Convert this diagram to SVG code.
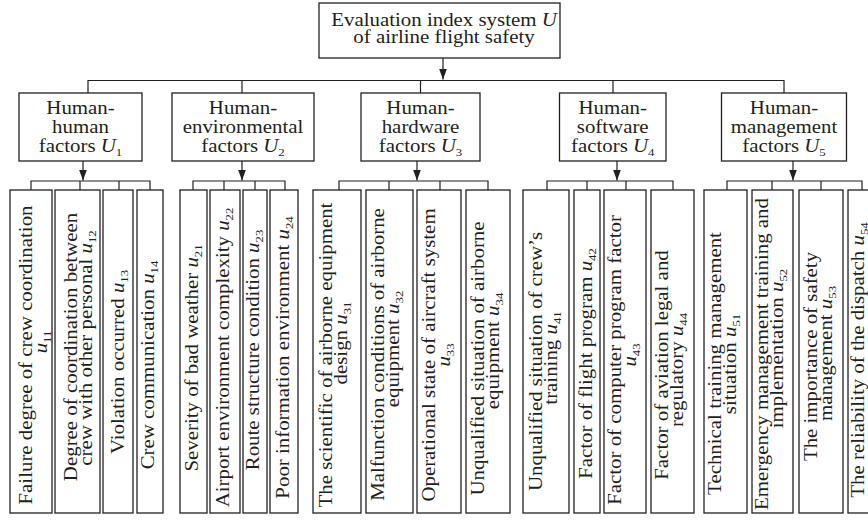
<svg xmlns="http://www.w3.org/2000/svg" width="868" height="528" viewBox="0 0 868 528">
<defs>
<marker id="ah" markerUnits="userSpaceOnUse" markerWidth="12" markerHeight="9" refX="11" refY="4" orient="auto"><path d="M0,0 L11,4 L0,8 z" fill="#231f20"/></marker>
<style>
.b{fill:#fff;stroke:#231f20;stroke-width:1.3}
.c{fill:none;stroke:#231f20;stroke-width:1.2}
text{font-family:"Liberation Serif","Times New Roman",serif;font-size:18px;fill:#231f20;text-anchor:middle}
.i{font-style:italic}
.s{font-size:11px}
</style>
</defs>
<rect width="868" height="528" fill="#fff"/>
<g id="connectors">
<path class="c" d="M443,58 V79.5" marker-end="url(#ah)"/>
<path class="c" d="M88,93 V80.5 H784 V93 M242,80.5 V93 M420.5,80.5 V93 M613,80.5 V93"/>
<path class="c" d="M83,161 V180.5" marker-end="url(#ah)"/>
<path class="c" d="M242,161 V180.5" marker-end="url(#ah)"/>
<path class="c" d="M417,161 V180.5" marker-end="url(#ah)"/>
<path class="c" d="M617,161 V180.5" marker-end="url(#ah)"/>
<path class="c" d="M793,161 V180.5" marker-end="url(#ah)"/>
<path class="c" d="M31,190 V181 H150 V190 M80,181 V190 M119,181 V190"/>
<path class="c" d="M193,190 V181 H285 V190 M224,181 V190 M255,181 V190"/>
<path class="c" d="M339,190 V181 H488 V190 M389,181 V190 M440,181 V190"/>
<path class="c" d="M547,190 V181 H673 V190 M587,181 V190 M626,181 V190"/>
<path class="c" d="M727,190 V181 H862 V190 M772,181 V190 M821,181 V190"/>
</g>
<g id="root">
<rect class="b" x="319" y="3" width="241" height="55"/>
<text transform="translate(444,26) scale(1.16,1)">Evaluation index system <tspan class="i">U</tspan></text>
<text transform="translate(444,43) scale(1.16,1)">of airline flight safety</text>
</g>
<g id="U1">
<rect class="b" x="19" y="93" width="123" height="68"/>
<text transform="translate(80.5,114) scale(1.16,1)">Human-</text>
<text transform="translate(80.5,133) scale(1.16,1)">human</text>
<text transform="translate(80.5,152) scale(1.16,1)">factors <tspan class="i">U</tspan><tspan class="s" dy="4">1</tspan></text>
</g>
<g id="U2">
<rect class="b" x="172" y="93" width="142" height="68"/>
<text transform="translate(243,114) scale(1.16,1)">Human-</text>
<text transform="translate(243,133) scale(1.16,1)">environmental</text>
<text transform="translate(243,152) scale(1.16,1)">factors <tspan class="i">U</tspan><tspan class="s" dy="4">2</tspan></text>
</g>
<g id="U3">
<rect class="b" x="361" y="93" width="119" height="68"/>
<text transform="translate(420.5,114) scale(1.16,1)">Human-</text>
<text transform="translate(420.5,133) scale(1.16,1)">hardware</text>
<text transform="translate(420.5,152) scale(1.16,1)">factors <tspan class="i">U</tspan><tspan class="s" dy="4">3</tspan></text>
</g>
<g id="U4">
<rect class="b" x="559.5" y="93" width="106.5" height="68"/>
<text transform="translate(612.7,114) scale(1.16,1)">Human-</text>
<text transform="translate(612.7,133) scale(1.16,1)">software</text>
<text transform="translate(612.7,152) scale(1.16,1)">factors <tspan class="i">U</tspan><tspan class="s" dy="4">4</tspan></text>
</g>
<g id="U5">
<rect class="b" x="721.5" y="93" width="125" height="68"/>
<text transform="translate(784,114) scale(1.16,1)">Human-</text>
<text transform="translate(784,133) scale(1.16,1)">management</text>
<text transform="translate(784,152) scale(1.16,1)">factors <tspan class="i">U</tspan><tspan class="s" dy="4">5</tspan></text>
</g>
<g id="u11">
<rect class="b" x="10" y="190" width="42" height="323"/>
<text transform="translate(32,355) rotate(-90) scale(1.16,1)">Failure degree of crew coordination</text>
<text transform="translate(47,342) rotate(-90) scale(1.16,1)"><tspan class="i">u</tspan><tspan class="s" dy="4">11</tspan></text>
</g>
<g id="u12">
<rect class="b" x="55" y="190" width="45" height="323"/>
<text transform="translate(77,347) rotate(-90) scale(1.16,1)">Degree of coordination between</text>
<text transform="translate(92,348) rotate(-90) scale(1.16,1)">crew with other personal <tspan class="i">u</tspan><tspan class="s" dy="4">12</tspan></text>
</g>
<g id="u13">
<rect class="b" x="103" y="190" width="30" height="323"/>
<text transform="translate(123.5,362) rotate(-90) scale(1.16,1)">Violation occurred <tspan class="i">u</tspan><tspan class="s" dy="4">13</tspan></text>
</g>
<g id="u14">
<rect class="b" x="137" y="190" width="26" height="323"/>
<text transform="translate(153.5,365) rotate(-90) scale(1.16,1)">Crew communication <tspan class="i">u</tspan><tspan class="s" dy="4">14</tspan></text>
</g>
<g id="u21">
<rect class="b" x="180" y="190" width="27" height="323"/>
<text transform="translate(198,358) rotate(-90) scale(1.16,1)">Severity of bad weather <tspan class="i">u</tspan><tspan class="s" dy="4">21</tspan></text>
</g>
<g id="u22">
<rect class="b" x="210" y="190" width="30" height="323"/>
<text transform="translate(229,357.5) rotate(-90) scale(1.16,1)">Airport environment complexity <tspan class="i">u</tspan><tspan class="s" dy="4">22</tspan></text>
</g>
<g id="u23">
<rect class="b" x="243" y="190" width="24" height="323"/>
<text transform="translate(259,350) rotate(-90) scale(1.16,1)">Route structure condition <tspan class="i">u</tspan><tspan class="s" dy="4">23</tspan></text>
</g>
<g id="u24">
<rect class="b" x="270" y="190" width="28" height="323"/>
<text transform="translate(288.5,357.5) rotate(-90) scale(1.16,1)">Poor information environment <tspan class="i">u</tspan><tspan class="s" dy="4">24</tspan></text>
</g>
<g id="u31">
<rect class="b" x="313" y="190" width="48" height="323"/>
<text transform="translate(331.5,355) rotate(-90) scale(1.16,1)">The scientific of airborne equipment</text>
<text transform="translate(347,343) rotate(-90) scale(1.16,1)">design <tspan class="i">u</tspan><tspan class="s" dy="4">31</tspan></text>
</g>
<g id="u32">
<rect class="b" x="366" y="190" width="47" height="323"/>
<text transform="translate(383.5,354.5) rotate(-90) scale(1.16,1)">Malfunction conditions of airborne</text>
<text transform="translate(398.5,349) rotate(-90) scale(1.16,1)">equipment <tspan class="i">u</tspan><tspan class="s" dy="4">32</tspan></text>
</g>
<g id="u33">
<rect class="b" x="417" y="190" width="44" height="323"/>
<text transform="translate(435,355) rotate(-90) scale(1.16,1)">Operational state of aircraft system</text>
<text transform="translate(450,355) rotate(-90) scale(1.16,1)"><tspan class="i">u</tspan><tspan class="s" dy="4">33</tspan></text>
</g>
<g id="u34">
<rect class="b" x="466" y="190" width="44" height="323"/>
<text transform="translate(483.5,358.5) rotate(-90) scale(1.16,1)">Unqualified situation of airborne</text>
<text transform="translate(498.5,351) rotate(-90) scale(1.16,1)">equipment <tspan class="i">u</tspan><tspan class="s" dy="4">34</tspan></text>
</g>
<g id="u41">
<rect class="b" x="523" y="190" width="46" height="323"/>
<text transform="translate(541.5,361.5) rotate(-90) scale(1.16,1)">Unqualified situation of crew’s</text>
<text transform="translate(556.5,358) rotate(-90) scale(1.16,1)">training <tspan class="i">u</tspan><tspan class="s" dy="4">41</tspan></text>
</g>
<g id="u42">
<rect class="b" x="574" y="190" width="26" height="323"/>
<text transform="translate(591.5,363.5) rotate(-90) scale(1.16,1)">Factor of flight program <tspan class="i">u</tspan><tspan class="s" dy="4">42</tspan></text>
</g>
<g id="u43">
<rect class="b" x="604" y="190" width="42" height="323"/>
<text transform="translate(620.5,360) rotate(-90) scale(1.16,1)">Factor of computer program factor</text>
<text transform="translate(635.5,355) rotate(-90) scale(1.16,1)"><tspan class="i">u</tspan><tspan class="s" dy="4">43</tspan></text>
</g>
<g id="u44">
<rect class="b" x="651" y="190" width="43" height="323"/>
<text transform="translate(668,365) rotate(-90) scale(1.16,1)">Factor of aviation legal and</text>
<text transform="translate(683,370) rotate(-90) scale(1.16,1)">regulatory <tspan class="i">u</tspan><tspan class="s" dy="4">44</tspan></text>
</g>
<g id="u51">
<rect class="b" x="704" y="190" width="43" height="323"/>
<text transform="translate(721,363.5) rotate(-90) scale(1.16,1)">Technical training management</text>
<text transform="translate(736,364) rotate(-90) scale(1.16,1)">situation <tspan class="i">u</tspan><tspan class="s" dy="4">51</tspan></text>
</g>
<g id="u52">
<rect class="b" x="752" y="190" width="41" height="323"/>
<text transform="translate(768,354) rotate(-90) scale(1.16,1)">Emergency management training and</text>
<text transform="translate(783,348.5) rotate(-90) scale(1.16,1)">implementation <tspan class="i">u</tspan><tspan class="s" dy="4">52</tspan></text>
</g>
<g id="u53">
<rect class="b" x="799" y="190" width="44" height="323"/>
<text transform="translate(816.5,356.5) rotate(-90) scale(1.16,1)">The importance of safety</text>
<text transform="translate(831.5,353.5) rotate(-90) scale(1.16,1)">management <tspan class="i">u</tspan><tspan class="s" dy="4">53</tspan></text>
</g>
<g id="u54">
<rect class="b" x="848" y="190" width="40" height="323"/>
<text transform="translate(864,360) rotate(-90) scale(1.16,1)">The reliability of the dispatch <tspan class="i">u</tspan><tspan class="s" dy="4">54</tspan></text>
</g>
</svg>
